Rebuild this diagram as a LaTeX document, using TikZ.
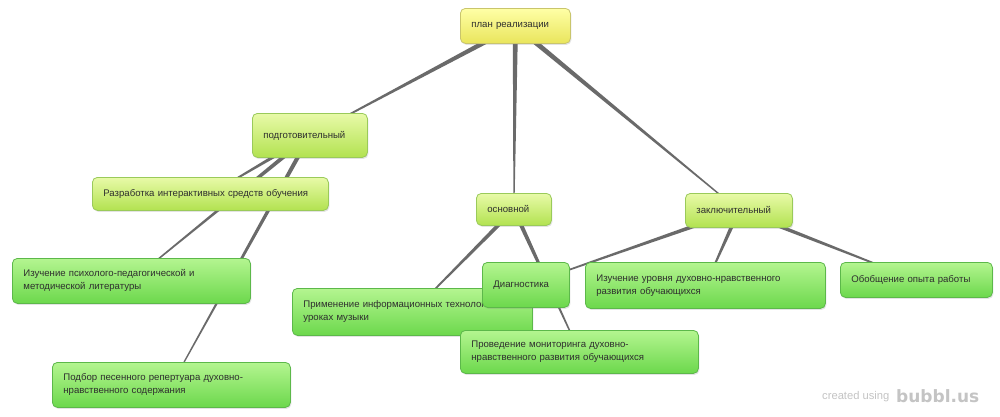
\documentclass[tikz,border=0pt]{standalone}
\usepackage{fontspec}
\setmainfont{Liberation Sans}
\newfontfamily\wmfont{DejaVu Sans}
\usetikzlibrary{calc,shadows,backgrounds}
\definecolor{ytop}{HTML}{FFFFA6}
\definecolor{ybot}{HTML}{E9E55C}
\definecolor{ydraw}{HTML}{C9C56C}
\definecolor{lgtop}{HTML}{E8FAA8}
\definecolor{lgbot}{HTML}{B2E250}
\definecolor{lgdraw}{HTML}{9ACA5A}
\definecolor{gtop}{HTML}{B4F590}
\definecolor{gbot}{HTML}{6CD84C}
\definecolor{gdraw}{HTML}{5CB84A}
\definecolor{edgecol}{HTML}{6A6A6A}
\definecolor{txt}{HTML}{2E2E2E}
\definecolor{wm}{HTML}{C4C4C4}
\tikzset{
  box/.style={rounded corners=5pt, anchor=north west, align=left, inner xsep=11pt, inner ysep=2pt,
    font=\fontsize{9.6}{13}\selectfont, text=txt, line width=0.8pt,
    drop shadow={shadow xshift=1pt, shadow yshift=-1.5pt, opacity=0.22}},
  yel/.style={box, top color=ytop, bottom color=ybot, draw=ydraw},
  lgr/.style={box, top color=lgtop, bottom color=lgbot, draw=lgdraw},
  grn/.style={box, top color=gtop, bottom color=gbot, draw=gdraw},
}
\newcommand{\taper}[3]{\fill[edgecol] ($(#1.center)!#3!90:(#2.center)$) -- ($(#1.center)!#3!-90:(#2.center)$) -- ($(#2.center)!0.5pt!90:(#1.center)$) -- ($(#2.center)!0.5pt!-90:(#1.center)$) -- cycle;}
\begin{document}
\begin{tikzpicture}[x=1pt,y=-1pt]
\useasboundingbox (0,0) rectangle (1000,416);
% root
\node[yel, minimum width=110pt, minimum height=35pt, text width=88pt] (plan) at (460,8) {план реализации};
% level 1
\node[lgr, minimum width=115pt, minimum height=44pt, text width=93pt] (podg) at (252,113) {подготовительный};
\node[lgr, minimum width=75pt, minimum height=32pt, text width=53pt] (osn) at (476,193) {основной};
\node[lgr, minimum width=107pt, minimum height=34pt, text width=85pt] (zakl) at (685,193) {заключительный};
% level 2
\node[lgr, minimum width=236pt, minimum height=33pt, text width=214pt] (razr) at (92,177) {Разработка интерактивных средств обучения};
\node[grn, minimum width=238pt, minimum height=45pt, text width=216pt] (izp) at (12,258) {Изучение психолого-педагогической и\\методической литературы};
\node[grn, minimum width=238pt, minimum height=45pt, text width=216pt] (podb) at (52,362) {Подбор песенного репертуара духовно-\\нравственного содержания};
\node[grn, minimum width=240pt, minimum height=47pt, text width=218pt] (prim) at (292,288) {Применение информационных технологий на\\уроках музыки};
\node[grn, minimum width=87pt, minimum height=45pt, text width=65pt] (diag) at (482,262) {Диагностика\\[8pt]};
\node[grn, minimum width=238pt, minimum height=43pt, text width=216pt] (prov) at (460,330) {Проведение мониторинга духовно-\\нравственного развития обучающихся};
\node[grn, minimum width=240pt, minimum height=46pt, text width=218pt] (izu) at (585,262) {Изучение уровня духовно-нравственного\\развития обучающихся};
\node[grn, minimum width=152pt, minimum height=35pt, text width=130pt] (obob) at (840,262) {Обобщение опыта работы};
% watermark
\node[anchor=west, inner sep=0pt, text=wm, font=\fontsize{11.2}{11.2}\selectfont] (wm1) at (822,397) {created using};
\node[anchor=west, inner sep=0pt, text=wm, font=\wmfont\bfseries\fontsize{17}{17}\selectfont] (wm2) at (896,396) {bubbl.us};
\begin{pgfonlayer}{background}
\fill[white] (0,0) rectangle (1000,416);
\taper{plan}{podg}{2.6pt}
\taper{plan}{osn}{2.6pt}
\taper{plan}{zakl}{2.6pt}
\taper{podg}{razr}{2.2pt}
\taper{podg}{izp}{2.2pt}
\taper{podg}{podb}{2.2pt}
\taper{osn}{prim}{2.2pt}
\taper{osn}{prov}{2.2pt}
\taper{zakl}{diag}{2.2pt}
\taper{zakl}{izu}{2.2pt}
\taper{zakl}{obob}{2.2pt}
\end{pgfonlayer}
\end{tikzpicture}
\end{document}
